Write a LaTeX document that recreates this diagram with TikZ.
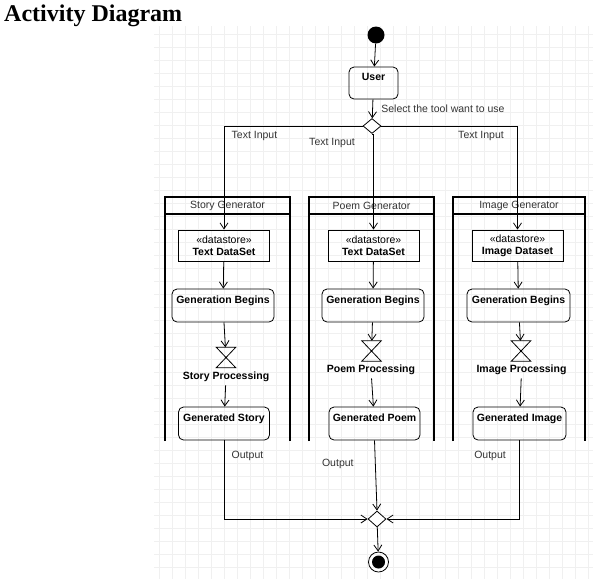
\documentclass[tikz,border=0pt]{standalone}
\usepackage{fontspec}
\setmainfont{Liberation Serif}
\setsansfont{Liberation Sans}
\usetikzlibrary{shapes.geometric,arrows.meta}

\begin{document}
\begin{tikzpicture}[x=1pt,y=-1pt,font=\sffamily\fontsize{10.5}{12}\selectfont,
    >={Straight Barb[length=6pt,width=8pt]},
    flow/.style={->,line width=0.8pt},
    bold/.style={font=\sffamily\bfseries\fontsize{10.5}{12}\selectfont},
    act/.style={bold,draw,rounded corners=5pt,line width=0.8pt,minimum height=33pt,
      text height=8pt,text depth=13pt,inner sep=0pt},
    store/.style={draw,line width=0.8pt,minimum width=91pt,minimum height=31pt,
      align=center,inner sep=0pt},
    hglass/.style={minimum width=19pt,minimum height=20pt,inner sep=0pt},
    gate/.style={draw,diamond,fill=white,line width=0.8pt,inner sep=0pt,
      minimum width=18pt,minimum height=15pt},
    lbl/.style={text=black!80},
    lane/.style={line width=1.8pt}]
    \useasboundingbox (0,0) rectangle (593,579);

    % background grid
    \scope[draw=black!6,line width=0.5pt]
    \foreach \gx in {159,172,...,592} \draw (\gx,26) -- (\gx,579);
    \foreach \gy in {34,47,...,578} \draw (154,\gy) -- (593,\gy);
    \endscope

    \node[anchor=base west,inner sep=0pt,font=\rmfamily\bfseries\fontsize{24}{28}\selectfont]
      (title) at (4,21) {Activity Diagram};

    % swimlanes
    \foreach \lx/\rx/\id/\name in {165/290/s/Story Generator,309/434/p/Poem Generator,453/585/i/Image Generator} {
      \draw[lane] (\lx,441) -- (\lx,197) -- (\rx,197) -- (\rx,441);
      \draw[lane] (\lx,214) -- (\rx,214);
      \node[lbl] (\id hd) at ({(\lx+\rx)/2},205.5) {\name};
    }

    \node[circle,fill=black,minimum size=17pt,inner sep=0pt] (start) at (376,35) {};
    \node[act,minimum width=49pt,minimum height=32pt] (user) at (373.5,83) {User};
    \node[gate] (fork) at (372,126) {};

    % story lane
    \node[store] (sds) at (224,245.5) {«datastore»\\\textbf{Text DataSet}};
    \node[act,minimum width=102pt] (sbeg) at (223,305.5) {Generation Begins};
    \node[hglass] (sproc) at (226,357.5) {};
    \node[bold] (slbl) at (226,377) {Story Processing};
    \node[act,minimum width=91pt] (sout) at (224,423.5) {Generated Story};

    % poem lane
    \node[store] (pds) at (373.5,245.5) {«datastore»\\\textbf{Text DataSet}};
    \node[act,minimum width=102pt] (pbeg) at (373,305.5) {Generation Begins};
    \node[hglass] (pproc) at (371.5,351) {};
    \node[bold] (plbl) at (371,370) {Poem Processing};
    \node[act,minimum width=91pt] (pout) at (374.5,423.5) {Generated Poem};

    % image lane
    \node[store] (ids) at (517.5,245.5) {«datastore»\\\textbf{Image Dataset}};
    \node[act,minimum width=103pt] (ibeg) at (518.5,305.5) {Generation Begins};
    \node[hglass] (iproc) at (521,351) {};
    \node[bold] (ilbl) at (521.5,370) {Image Processing};
    \node[act,minimum width=93pt] (iout) at (519.5,423.5) {Generated Image};

    \node[gate,minimum height=16pt] (join) at (377,519) {};
    \node[circle,draw,line width=0.8pt,minimum size=20pt,inner sep=0pt] (stop) at (378.5,562) {};
    \fill (stop) circle (6.5);

    \foreach \h in {sproc,pproc,iproc}
      \draw[line width=0.8pt] (\h.north west) -- (\h.north east) -- (\h.south west) -- (\h.south east) -- cycle;

    \draw[flow] (start) -- (user);
    \draw[flow] (user) -- (fork) node[midway,right=5pt,lbl] {Select the tool want to use};
    \draw[flow] (fork.west) -| (sds.north) node[pos=0.55,right=4pt,lbl] {Text Input};
    \draw[flow] (fork.south) -- (fork.south -| pds.north) -- (pds.north)
      node[pos=0.1,left=15pt,lbl] {Text Input};
    \draw[flow] (fork.east) -| (ids.north) node[pos=0.55,left=10pt,lbl] {Text Input};

    \foreach \id in {s,p,i} {
      \draw[flow] (\id ds) -- (\id beg);
      \draw[flow] (\id beg) -- (\id proc);
      \draw[flow] (\id lbl) -- (\id out);
    }

    \draw[flow] (sout.south) |- (join.west) node[pos=0.1,right=4pt,lbl] {Output};
    \draw[flow] (pout.south) -- (join.north) node[pos=0.33,left=18pt,lbl] {Output};
    \draw[flow] (iout.south) |- (join.east) node[pos=0.1,left=10pt,lbl] {Output};
    \draw[flow] (join) -- (stop);
    \end{tikzpicture}
\end{document}
